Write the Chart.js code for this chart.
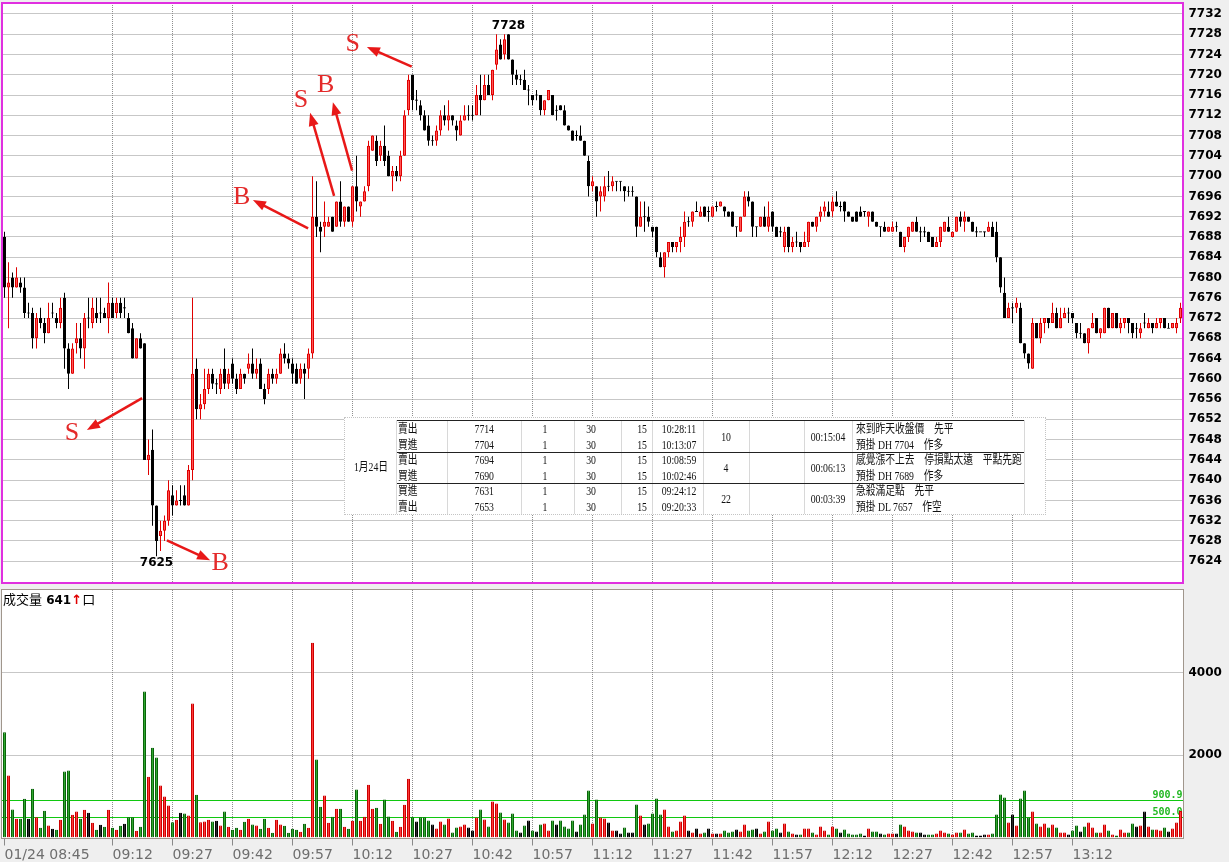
<!DOCTYPE html>
<html lang="zh-Hant">
<head>
<meta charset="utf-8">
<title>台指期 01/24 1分K</title>
<style>
  body { margin: 0; width: 1229px; height: 862px; overflow: hidden; position: relative; background: #efefef; font-family: "DejaVu Sans", sans-serif; }
  canvas { position: absolute; left: 0; }
  #price { top: 0; }
  #vol { top: 585px; }
  #volTitle { position: absolute; left: 3px; top: 591px; font-size: 13px; line-height: 16px; color: #000; white-space: nowrap; }
  #volTitle .cjk { font-family: "Noto Sans CJK TC", sans-serif; }
  #volTitle b { font-family: "DejaVu Sans", sans-serif; font-size: 12px; }
  #volTitle .up { color: #e00000; font-weight: bold; }
  #trades { position: absolute; left: 344px; top: 417px; width: 702px; height: 98px; background: #fff; border: 1px dotted #c4c4c4; box-sizing: border-box; }
  #trades .cell { position: absolute; font-family: "Liberation Serif", "Noto Sans CJK TC", serif; font-size: 12.5px; line-height: 16px; color: #111; white-space: nowrap; }
  #trades .hl { position: absolute; height: 1px; background: #222; }
  #trades .vl { position: absolute; width: 1px; background: #d8d8d8; }
</style>
</head>
<body>
<canvas id="price" width="1229" height="585"></canvas>
<canvas id="vol" width="1229" height="277"></canvas>
<div id="volTitle"></div>
<div id="trades"></div>

<script src="https://cdn.jsdelivr.net/npm/chart.js@4.4.0/dist/chart.umd.min.js"></script>
<script>
// 1-minute bars, 08:45 onward
var opens = [7688,7678,7680,7678,7679,7678,7673,7673,7668,7672,7671,7669,7673,7672,7671,7676,7666,7661,7667,7668,
  7666,7672,7671,7673,7673,7673,7672,7675,7673,7675,7674,7672,7670,7664,7668,7667,7644,7646,7635,7629,
  7630,7632,7637,7635,7636,7637,7635,7642,7662,7654,7655,7658,7661,7659,7658,7662,7659,7663,7660,7658,
  7661,7662,7663,7661,7663,7658,7658,7661,7660,7661,7665,7664,7663,7662,7660,7662,7662,7665,7692,7690,
  7690,7690,7692,7690,7695,7691,7694,7691,7698,7694,7695,7698,7705,7707,7704,7706,7704,7700,7701,7700,
  7704,7713,7720,7715,7714,7712,7710,7707,7707,7709,7712,7711,7712,7710,7708,7711,7712,7712,7712,7716,
  7715,7718,7716,7722,7726,7724,7728,7723,7720,7719,7719,7717,7716,7716,7716,7713,7715,7716,7713,7714,
  7713,7710,7709,7708,7708,7707,7703,7698,7698,7696,7696,7698,7698,7699,7699,7698,7697,7697,7696,7690,
  7692,7692,7690,7690,7684,7682,7685,7687,7686,7687,7688,7691,7691,7693,7692,7694,7693,7692,7694,7694,
  7694,7693,7693,7690,7689,7692,7696,7695,7690,7690,7692,7690,7693,7690,7689,7686,7690,7686,7687,7687,
  7686,7687,7691,7690,7692,7693,7693,7693,7695,7694,7695,7693,7692,7693,7693,7693,7692,7693,7691,7690,
  7690,7689,7689,7690,7689,7686,7688,7689,7691,7689,7689,7689,7688,7686,7687,7689,7690,7688,7689,7692,
  7691,7692,7691,7689,7689,7689,7689,7690,7689,7684,7677,7672,7674,7674,7674,7667,7665,7662,7671,7668,
  7671,7672,7671,7673,7670,7672,7673,7673,7671,7669,7669,7667,7670,7672,7669,7669,7674,7670,7673,7670,
  7671,7672,7671,7670,7669,7671,7670,7671,7670,7671,7672,7670,7670,7670,7672];
var highs = [7689,7683,7681,7682,7680,7680,7675,7674,7673,7674,7672,7675,7675,7673,7676,7677,7667,7667,7671,7671,
  7673,7676,7676,7676,7676,7674,7679,7676,7676,7676,7676,7673,7671,7668,7669,7667,7648,7650,7635,7632,
  7633,7640,7639,7638,7639,7639,7643,7676,7664,7657,7662,7662,7662,7660,7662,7666,7662,7664,7661,7662,
  7661,7665,7666,7664,7664,7659,7662,7662,7662,7666,7667,7665,7664,7663,7663,7663,7666,7700,7699,7691,
  7695,7692,7692,7695,7699,7694,7694,7698,7704,7695,7698,7707,7708,7708,7707,7710,7705,7702,7702,7705,
  7713,7720,7720,7717,7715,7713,7712,7708,7710,7713,7714,7715,7712,7711,7712,7714,7714,7714,7718,7720,
  7720,7720,7721,7728,7727,7728,7728,7723,7721,7720,7721,7718,7716,7717,7716,7715,7717,7716,7714,7714,
  7714,7710,7709,7709,7710,7707,7704,7700,7698,7698,7700,7701,7700,7699,7699,7698,7698,7698,7696,7695,
  7695,7694,7690,7690,7685,7685,7687,7687,7687,7690,7693,7692,7693,7695,7694,7694,7694,7694,7695,7695,
  7694,7693,7693,7690,7692,7697,7697,7695,7690,7692,7694,7695,7693,7690,7690,7690,7690,7688,7689,7687,
  7689,7691,7691,7692,7694,7695,7695,7696,7697,7695,7695,7693,7692,7693,7694,7693,7693,7693,7691,7690,
  7691,7690,7691,7691,7689,7688,7690,7691,7692,7690,7690,7689,7688,7688,7690,7691,7692,7689,7692,7693,
  7693,7692,7691,7690,7689,7689,7691,7691,7691,7684,7680,7675,7675,7676,7675,7667,7665,7672,7671,7672,
  7672,7672,7675,7674,7674,7674,7674,7673,7671,7671,7669,7670,7673,7672,7670,7674,7674,7673,7673,7672,
  7672,7672,7671,7671,7671,7673,7672,7671,7672,7672,7672,7671,7671,7672,7675];
var lows = [7676,7670,7676,7678,7677,7672,7672,7666,7666,7670,7667,7669,7672,7670,7670,7662,7658,7661,7665,7664,
  7662,7670,7670,7671,7671,7672,7669,7672,7672,7672,7672,7669,7664,7664,7666,7644,7641,7631,7625,7626,
  7628,7631,7633,7635,7635,7635,7635,7640,7652,7652,7654,7657,7658,7657,7657,7658,7658,7659,7657,7658,
  7659,7661,7660,7660,7658,7655,7657,7659,7659,7661,7663,7662,7659,7659,7659,7656,7660,7664,7688,7685,
  7688,7690,7689,7690,7690,7690,7691,7690,7693,7692,7695,7697,7705,7702,7703,7702,7700,7697,7699,7699,
  7704,7712,7713,7713,7711,7709,7706,7706,7706,7708,7710,7709,7710,7707,7708,7711,7711,7711,7712,7712,
  7715,7716,7715,7721,7723,7723,7723,7718,7718,7718,7717,7714,7714,7715,7712,7712,7715,7712,7711,7713,
  7710,7709,7707,7707,7707,7704,7696,7697,7692,7693,7695,7697,7697,7697,7697,7695,7696,7696,7688,7690,
  7689,7690,7688,7684,7682,7680,7684,7685,7685,7685,7686,7690,7690,7693,7692,7692,7691,7692,7693,7694,
  7692,7692,7690,7688,7689,7692,7694,7688,7688,7690,7690,7689,7689,7688,7688,7685,7685,7685,7686,7685,
  7686,7686,7690,7689,7691,7692,7692,7692,7694,7693,7691,7692,7691,7691,7692,7692,7690,7691,7690,7688,
  7689,7689,7689,7689,7686,7685,7687,7689,7689,7687,7688,7687,7686,7686,7686,7689,7689,7688,7689,7690,
  7689,7691,7689,7688,7689,7688,7689,7688,7683,7677,7672,7672,7671,7673,7667,7664,7662,7662,7668,7667,
  7669,7670,7671,7670,7670,7672,7671,7671,7668,7668,7667,7665,7670,7669,7668,7669,7670,7670,7670,7669,
  7670,7669,7668,7668,7668,7670,7670,7669,7670,7670,7670,7670,7670,7669,7671];
var closes = [7678,7679,7678,7680,7678,7673,7673,7668,7672,7671,7669,7672,7673,7671,7674,7666,7661,7666,7668,7666,
  7672,7672,7674,7672,7673,7672,7675,7672,7675,7673,7674,7669,7664,7668,7666,7644,7645,7635,7628,7630,
  7632,7638,7635,7636,7636,7635,7642,7661,7654,7655,7658,7661,7659,7659,7661,7659,7661,7660,7658,7661,
  7660,7663,7661,7662,7658,7656,7661,7660,7661,7665,7664,7663,7661,7659,7662,7661,7665,7692,7690,7689,
  7691,7691,7689,7695,7691,7694,7691,7698,7695,7695,7697,7706,7708,7703,7706,7703,7700,7701,7700,7704,
  7712,7719,7715,7715,7712,7709,7707,7707,7709,7712,7711,7712,7711,7709,7711,7712,7712,7712,7716,7715,
  7718,7716,7721,7725,7723,7727,7723,7720,7719,7719,7717,7717,7715,7716,7713,7715,7717,7712,7713,7713,
  7710,7709,7707,7708,7707,7704,7698,7699,7695,7697,7698,7698,7699,7699,7699,7697,7697,7697,7690,7692,
  7692,7691,7689,7685,7682,7685,7687,7686,7687,7688,7691,7691,7693,7693,7693,7692,7693,7694,7694,7695,
  7693,7692,7690,7690,7692,7696,7695,7690,7690,7692,7690,7692,7690,7688,7689,7689,7686,7687,7687,7686,
  7687,7691,7690,7692,7693,7694,7692,7695,7694,7694,7693,7692,7691,7691,7692,7693,7693,7691,7690,7690,
  7689,7690,7690,7690,7686,7688,7690,7691,7689,7689,7689,7687,7686,7687,7690,7691,7689,7689,7692,7691,
  7692,7691,7689,7689,7689,7689,7690,7688,7684,7678,7672,7674,7674,7675,7667,7665,7663,7671,7668,7671,
  7672,7671,7673,7670,7672,7673,7673,7672,7669,7669,7667,7670,7671,7669,7670,7674,7670,7673,7670,7671,
  7672,7671,7669,7670,7670,7671,7671,7670,7671,7672,7670,7670,7671,7671,7674];
var volumes = [2553,1503,679,453,453,938,453,1180,493,234,646,291,210,186,428,1600,1624,549,630,453,
  671,598,356,186,307,259,671,234,186,283,331,493,493,162,259,3539,1470,2173,1939,1260,
  994,776,372,428,598,582,533,3248,1034,372,388,428,388,404,291,630,259,186,234,186,
  380,453,315,291,210,453,234,113,428,315,283,113,210,186,137,331,234,4719,1891,743,
  1018,356,501,695,695,259,210,404,1164,404,501,1277,695,719,331,921,509,404,137,263,
  796,1426,493,388,493,493,412,315,218,388,315,461,121,242,267,315,242,170,485,679,
  436,267,873,824,606,436,364,582,170,121,291,412,170,145,315,339,170,412,315,412,
  267,218,412,145,315,558,1139,339,921,485,461,364,170,170,97,242,121,121,800,533,
  315,339,582,945,558,679,267,145,170,388,533,170,121,218,97,121,218,97,97,97,
  170,121,145,194,145,315,170,194,218,97,145,388,170,218,121,339,145,97,73,73,
  218,218,121,73,267,170,73,267,218,121,194,97,73,73,97,48,218,145,145,97,
  73,97,97,97,315,267,170,145,121,121,73,73,73,97,170,121,97,73,121,121,
  194,97,121,48,48,73,73,97,558,1042,970,364,558,291,945,1139,485,630,339,267,
  339,242,315,242,121,121,73,170,291,145,267,364,242,121,121,315,170,73,48,194,
  121,121,339,267,291,630,267,194,194,170,242,145,218,364,641];

var xTickLabels = ['01/24 08:45','09:12','09:27','09:42','09:57','10:12','10:27','10:42','10:57',
  '11:12','11:27','11:42','11:57','12:12','12:27','12:42','12:57','13:12'];
var priceTicks = [7624,7628,7632,7636,7640,7644,7648,7652,7656,7660,7664,7668,7672,7676,7680,7684,
  7688,7692,7696,7700,7704,7708,7712,7716,7720,7724,7728,7732];
var volumeTicks = [2000, 4000];
var volumeLevels = [900.9, 500.0];

// buy / sell marks drawn on the price panel: [bar index, price]
var marks = [
  { text: 'S', from: [34.4, 7656.2], to: [20.6, 7649.9], at: [16.9, 7649.3] },
  { text: 'B', from: [40.6, 7628.1], to: [51.4, 7624.2], at: [53.9, 7623.6] },
  { text: 'B', from: [75.9, 7689.7], to: [62.1, 7695.3], at: [59.3, 7695.9] },
  { text: 'S', from: [82.4, 7696.1], to: [76.4, 7712.5], at: [74.1, 7715.0] },
  { text: 'B', from: [86.9, 7701.1], to: [82.1, 7714.6], at: [80.3, 7718.0] },
  { text: 'S', from: [101.8, 7721.6], to: [90.6, 7725.5], at: [87.05, 7726.1] }
];

// trade log pasted on the chart
var tradeDate = '1月24日';
var tradeSide = ['賣出','買進','賣出','買進','買進','賣出'];
var tradePrice = ['7714','7704','7694','7690','7631','7653'];
var tradeLots = ['1','1','1','1','1','1'];
var tradeFee = ['30','30','30','30','30','30'];
var tradeTax = ['15','15','15','15','15','15'];
var tradeTime = ['10:28:11','10:13:07','10:08:59','10:02:46','09:24:12','09:20:33'];
var tradePoints = ['10','4','22'];
var tradeHold = ['00:15:04','00:06:13','00:03:39'];
var tradeNote = ['來到昨天收盤價　先平','預掛 DH 7704　作多','感覺漲不上去　停損點太遠　平點先跑',
  '預掛 DH 7689　作多','急殺滿足點　先平','預掛 DL 7657　作空'];

var UP = '#e00000', UP_FILL = '#ff5656';
var GRID = '#8e8e8e';

var times = opens.map(function (o, i) {
  var m = 8 * 60 + 45 + i;
  return String(Math.floor(m / 60)).padStart(2, '0') + ':' + String(m % 60).padStart(2, '0');
});
var labelAt = {};
xTickLabels.forEach(function (t) { labelAt[times.indexOf(t.slice(-5))] = t; });
var dir = opens.map(function (o, i) { return Math.sign(closes[i] - o); });

Chart.defaults.font.family = '"DejaVu Sans", sans-serif';
Chart.defaults.animation = false;

// keep the plot box where it is: no label overflow padding
function noPad(s) { s.paddingTop = 0; s.paddingBottom = 0; s.paddingLeft = 0; s.paddingRight = 0; }

var panelFrame = {
  id: 'panelFrame',
  beforeDraw: function (chart) {
    var a = chart.chartArea, ctx = chart.ctx;
    ctx.save();
    ctx.fillStyle = '#fff';
    ctx.fillRect(a.left - 1, a.top - 0.5, a.right - a.left + 2, a.bottom - a.top + 1);
    ctx.restore();
  },
  afterDraw: function (chart, args, opts) {
    var a = chart.chartArea, ctx = chart.ctx, w = opts.width || 1;
    var l = Math.floor(a.left) - 1 + w / 2, t = Math.floor(a.top) - 1 + w / 2;
    var r = Math.ceil(a.right) + 1 - w / 2, b = Math.ceil(a.bottom) + 1 - w / 2;
    ctx.save();
    ctx.strokeStyle = opts.color;
    ctx.lineWidth = w;
    ctx.strokeRect(l, t, r - l, b - t);
    ctx.restore();
  }
};

function drawArrow(ctx, x1, y1, x2, y2) {
  var ang = Math.atan2(y2 - y1, x2 - x1), len = 13, half = 5;
  var c = Math.cos(ang), s = Math.sin(ang);
  ctx.beginPath();
  ctx.moveTo(x1, y1);
  ctx.lineTo(x2 - c * len * 0.7, y2 - s * len * 0.7);
  ctx.stroke();
  ctx.beginPath();
  ctx.moveTo(x2, y2);
  ctx.lineTo(x2 - c * len + s * half, y2 - s * len - c * half);
  ctx.lineTo(x2 - c * len - s * half, y2 - s * len + c * half);
  ctx.closePath();
  ctx.fill();
}

var tradeMarks = {
  id: 'tradeMarks',
  afterDatasetsDraw: function (chart) {
    var ctx = chart.ctx, x = chart.scales.x, y = chart.scales.y;
    ctx.save();
    ctx.strokeStyle = '#e81818';
    ctx.fillStyle = '#e81818';
    ctx.lineWidth = 2.5;
    marks.forEach(function (m) {
      drawArrow(ctx, x.getPixelForValue(m.from[0]), y.getPixelForValue(m.from[1]),
        x.getPixelForValue(m.to[0]), y.getPixelForValue(m.to[1]));
    });
    ctx.fillStyle = '#e42a2a';
    ctx.font = '26px "Liberation Serif", serif';
    ctx.textAlign = 'center';
    ctx.textBaseline = 'middle';
    marks.forEach(function (m) {
      ctx.fillText(m.text, x.getPixelForValue(m.at[0]), y.getPixelForValue(m.at[1]));
    });
    // session high / low
    var hi = Math.max.apply(null, highs), lo = Math.min.apply(null, lows);
    var iHi = highs.lastIndexOf(hi), iLo = lows.indexOf(lo);
    ctx.fillStyle = '#000';
    ctx.font = 'bold 12px "DejaVu Sans", sans-serif';
    ctx.fillText(String(hi), x.getPixelForValue(iHi), y.getPixelForValue(hi) - 8);
    ctx.fillText(String(lo), x.getPixelForValue(iLo), y.getPixelForValue(lo) + 7);
    ctx.restore();
  }
};

var volumeLines = {
  id: 'volumeLines',
  beforeDatasetsDraw: function (chart) {
    var ctx = chart.ctx, a = chart.chartArea, y = chart.scales.y;
    ctx.save();
    ctx.font = 'bold 10px "DejaVu Sans Mono", monospace';
    ctx.textAlign = 'right';
    ctx.textBaseline = 'alphabetic';
    volumeLevels.forEach(function (v) {
      var py = Math.round(y.getPixelForValue(v)) + 0.5;
      ctx.strokeStyle = '#10c810';
      ctx.lineWidth = 1;
      ctx.beginPath();
      ctx.moveTo(a.left - 1, py);
      ctx.lineTo(a.right + 1, py);
      ctx.stroke();
      ctx.fillStyle = '#22b822';
      ctx.fillText(v.toFixed(1), a.right, py - 3);
    });
    ctx.restore();
  }
};

function xGrid(ctx) { return labelAt[ctx.index] !== undefined && ctx.index > 0 ? GRID : 'rgba(0,0,0,0)'; }

new Chart(document.getElementById('price'), {
  type: 'bar',
  data: {
    labels: times,
    datasets: [
      {
        data: lows.map(function (l, i) { return [l, highs[i]]; }),
        barThickness: 1, grouped: false, order: 2, inflateAmount: 0, borderWidth: 0,
        backgroundColor: dir.map(function (d) { return d > 0 ? UP : '#000'; })
      },
      {
        data: opens.map(function (o, i) {
          var c = closes[i];
          return o === c ? [o - 0.1, o + 0.1] : [Math.min(o, c), Math.max(o, c)];
        }),
        barThickness: 3, grouped: false, order: 1, inflateAmount: 0, borderWidth: 1, borderSkipped: false,
        backgroundColor: dir.map(function (d) { return d > 0 ? UP_FILL : '#000'; }),
        borderColor: dir.map(function (d) { return d > 0 ? UP : '#000'; })
      }
    ]
  },
  options: {
    responsive: false,
    layout: { padding: { left: 2.5, top: 3, right: 0, bottom: 2 } },
    plugins: { legend: { display: false }, tooltip: { enabled: false }, panelFrame: { color: '#e030e0', width: 2 } },
    scales: {
      x: {
        grid: { offset: false, drawTicks: false, color: xGrid },
        border: { display: false, dash: [1, 1] },
        ticks: { display: false, autoSkip: false },
        afterFit: function (s) { s.height = 0; noPad(s); }
      },
      y: {
        position: 'right',
        min: 7619.7, max: 7734.17,
        afterBuildTicks: function (s) { s.ticks = priceTicks.map(function (v) { return { value: v }; }); },
        afterFit: function (s) { s.width = 46.5; noPad(s); },
        grid: { drawTicks: false, color: GRID },
        border: { display: false, dash: [1, 1] },
        ticks: { padding: 6, color: '#000', font: { size: 12, weight: 'bold' }, callback: function (v) { return String(v); } }
      }
    }
  },
  plugins: [panelFrame, tradeMarks]
});

new Chart(document.getElementById('vol'), {
  type: 'bar',
  data: {
    labels: times,
    datasets: [{
      data: volumes,
      barThickness: 3, inflateAmount: 0, borderWidth: 1, borderSkipped: false,
      backgroundColor: dir.map(function (d) { return d > 0 ? '#ff3a3a' : d < 0 ? '#30a830' : '#2a2a2a'; }),
      borderColor: dir.map(function (d) { return d > 0 ? '#cc0000' : d < 0 ? '#0a640a' : '#000'; })
    }]
  },
  options: {
    responsive: false,
    layout: { padding: { left: 2.5, top: 5, right: 0, bottom: 0 } },
    plugins: { legend: { display: false }, tooltip: { enabled: false }, panelFrame: { color: '#a0968c', width: 1 } },
    scales: {
      x: {
        grid: {
          offset: false, color: xGrid, tickLength: 8,
          tickColor: function (ctx) { return labelAt[ctx.index] !== undefined ? '#8a8a8a' : 'rgba(0,0,0,0)'; }
        },
        border: { display: false, dash: [1, 1] },
        ticks: {
          autoSkip: false, maxRotation: 0, minRotation: 0, align: 'start', padding: 1,
          color: '#6e6e6e', font: { size: 14 },
          callback: function (v, i) { return labelAt[i] !== undefined ? labelAt[i] : ''; }
        },
        afterFit: function (s) { s.height = 24.5; noPad(s); }
      },
      y: {
        position: 'right',
        min: 0, max: 6000,
        afterBuildTicks: function (s) { s.ticks = volumeTicks.map(function (v) { return { value: v }; }); },
        afterFit: function (s) { s.width = 46.5; noPad(s); },
        grid: { drawTicks: false, color: GRID },
        border: { display: false, dash: [1, 1] },
        ticks: { padding: 6, color: '#000', font: { size: 12, weight: 'bold' }, callback: function (v) { return String(v); } }
      }
    }
  },
  plugins: [panelFrame, volumeLines]
});

// volume caption
document.getElementById('volTitle').innerHTML =
  '<span class="cjk">成交量</span> <b>' + volumes[volumes.length - 1] + '</b><span class="up">↑</span><span class="cjk">口</span>';

// trade log overlay (page coordinates)
var tbl = document.getElementById('trades');
var T_LEFT = 345, T_TOP = 418, SQ = 0.78;
function put(text, x, y, align) {
  var s = document.createElement('span');
  s.className = 'cell';
  s.textContent = text;
  s.style.top = (y - T_TOP - 8) + 'px';
  if (align === 'left') {
    s.style.left = (x - T_LEFT) + 'px';
    s.style.transformOrigin = 'left center';
  } else if (align === 'right') {
    s.style.left = (x - T_LEFT - 200) + 'px';
    s.style.width = '200px';
    s.style.textAlign = 'right';
    s.style.transformOrigin = 'right center';
  } else {
    s.style.left = (x - T_LEFT - 100) + 'px';
    s.style.width = '200px';
    s.style.textAlign = 'center';
    s.style.transformOrigin = 'center center';
  }
  s.style.transform = 'scaleX(' + SQ + ')';
  tbl.appendChild(s);
}
function line(cls, x, y, w, h) {
  var d = document.createElement('div');
  d.className = cls;
  d.style.left = (x - T_LEFT) + 'px';
  d.style.top = (y - T_TOP) + 'px';
  if (w) d.style.width = w + 'px';
  if (h) d.style.height = h + 'px';
  tbl.appendChild(d);
}
[447, 521, 574, 621, 652, 703, 749, 804, 852, 1024].forEach(function (vx) { line('vl', vx, 420, 0, 94); });
[420, 452, 483].forEach(function (hy) { line('hl', 397, hy, 627, 0); });
line('vl', 396, 420, 0, 94);

var rowY = [429, 444.5, 460, 475.5, 491, 506.5];
put(tradeDate, 371, 467, 'center');
rowY.forEach(function (ry, r) {
  put(tradeSide[r], 398, ry, 'left');
  put(tradePrice[r], 494, ry, 'right');
  put(tradeLots[r], 545, ry, 'center');
  put(tradeFee[r], 591, ry, 'center');
  put(tradeTax[r], 642, ry, 'center');
  put(tradeTime[r], 679, ry, 'center');
  put(tradeNote[r], 856, ry, 'left');
});
tradePoints.forEach(function (p, g) {
  var gy = (rowY[2 * g] + rowY[2 * g + 1]) / 2;
  put(p, 726, gy, 'center');
  put(tradeHold[g], 828, gy, 'center');
});
</script>
</body>
</html>
